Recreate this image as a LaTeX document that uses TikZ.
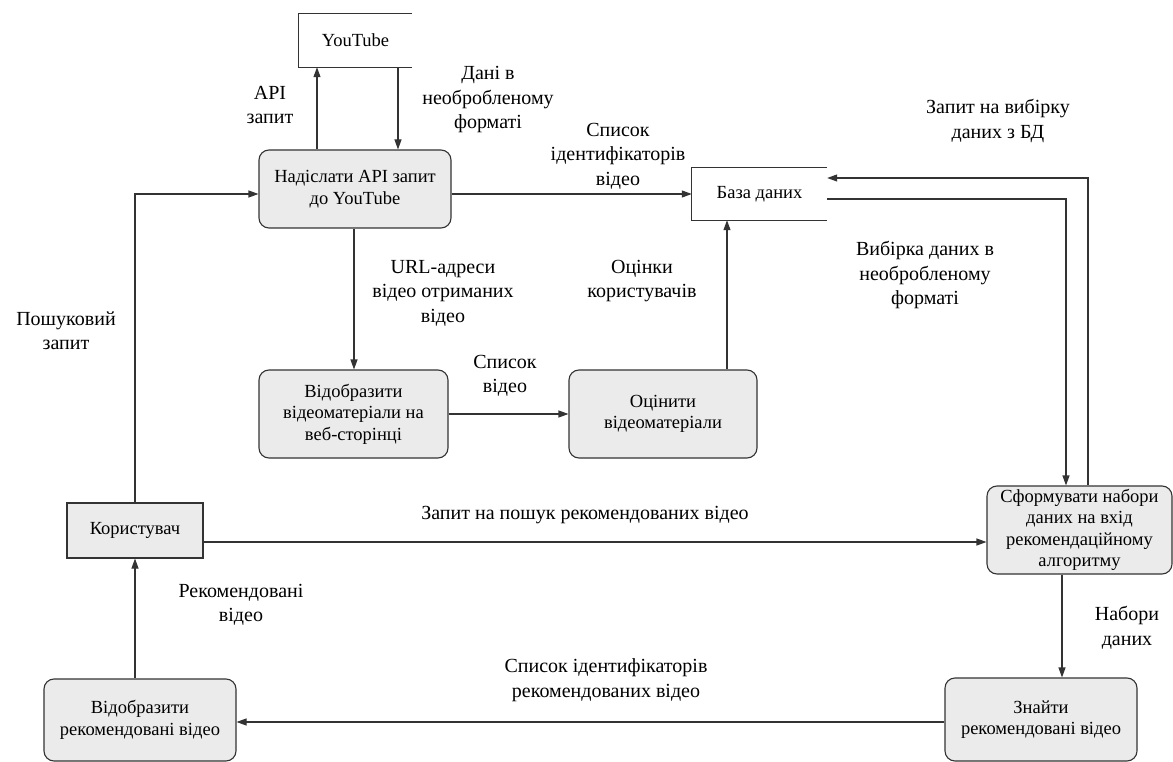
\documentclass[tikz,border=0pt]{standalone}
\usepackage{fontspec}
\setmainfont{Liberation Serif}
\usetikzlibrary{arrows.meta,calc}
\definecolor{boxfill}{HTML}{EBEBEB}
\definecolor{ln}{HTML}{333333}
\begin{document}
\begin{tikzpicture}[x=1pt,y=-1pt,
  proc/.style={draw=ln,line width=1.1pt,fill=boxfill,rounded corners=10pt,align=center,inner sep=0pt,
    font=\fontsize{18.5}{21.5}\selectfont,minimum width=#1},
  ent/.style={draw=ln,line width=1.1pt,fill=boxfill,align=center,font=\fontsize{18.5}{21.5}\selectfont},
  store/.style={align=center,font=\fontsize{18.5}{21.5}\selectfont,inner sep=0pt},
  lbl/.style={align=center,font=\fontsize{20}{24.5}\selectfont,inner sep=0pt},
  arr/.style={draw=ln,line width=1.1pt,-{Triangle[length=10pt,width=7pt]}},
  ln/.style={draw=ln,line width=1.1pt}]
\useasboundingbox (0,0) rectangle (1173,762);
% stores
\node[store,minimum width=113pt,minimum height=53pt] (yt) at (355.5,40.5) {YouTube};
\draw[ln] (yt.north east) -- (yt.north west) -- (yt.south west) -- (yt.south east);
\node[store,minimum width=135pt,minimum height=52pt] (db) at (759.5,194) {База даних};
\draw[ln] (db.north east) -- (db.north west) -- (db.south west) -- (db.south east);
% processes
\node[proc=192pt,minimum height=78pt] (send) at (355,189) {Надіслати API запит\\до YouTube};
\node[proc=189pt,minimum height=88pt] (disp) at (353.5,414) {Відобразити\\відеоматеріали на\\веб-сторінці};
\node[proc=188pt,minimum height=88pt] (rate) at (663,414) {Оцінити\\відеоматеріали};
\node[proc=185pt,minimum height=88pt,inner sep=0pt] (form) at (1079.5,530) {Сформувати набори\\даних на вхід\\рекомендаційному\\алгоритму};
\node[ent,minimum width=136pt,minimum height=55pt] (user) at (135,530.5) {Користувач};
\node[proc=192pt,minimum height=82pt] (showrec) at (140,720) {Відобразити\\рекомендовані відео};
\node[proc=192pt,minimum height=83pt] (find) at (1041,719.5) {Знайти\\рекомендовані відео};
% connectors
\draw[arr] (send.north -| 317,0) -- (yt.south -| 317,0);
\draw[arr] (yt.south -| 398,0) -- (send.north -| 398,0);
\draw[arr] (send.east |- 0,194) -- (db.west |- 0,194);
\draw[arr] (rate.north -| 727,0) -- (db.south -| 727,0);
\draw[arr] (send.south -| 354,0) -- (disp.north -| 354,0);
\draw[arr] (disp.east) -- (rate.west);
\draw[arr] (user.north) |- (send.west |- 0,194);
\draw[arr] (user.east |- 0,542) -- (form.west |- 0,542);
\draw[arr] (db.east |- 0,199) -| (form.north -| 1066,0);
\draw[arr] (form.north -| 1088,0) |- (db.east |- 0,178);
\draw[arr] (form.south -| 1062,0) -- (find.north -| 1062,0);
\draw[arr] (find.west |- 0,722) -- (showrec.east |- 0,722);
\draw[arr] (showrec.north -| 135,0) -- (user.south);
% labels
\node[lbl] (l1) at (270,105) {API\\запит};
\node[lbl] (l2) at (488,100) {Дані в\\необробленому\\форматі};
\node[lbl] (l3) at (618,156) {Список\\ідентифікаторів\\відео};
\node[lbl] (l4) at (998,121) {Запит на вибірку\\даних з БД};
\node[lbl] (l5) at (925,275) {Вибірка даних в\\необробленому\\форматі};
\node[lbl] (l6) at (443,293) {URL-адреси\\відео отриманих\\відео};
\node[lbl] (l7) at (642,281) {Оцінки\\користувачів};
\node[lbl] (l8) at (505,376) {Список\\відео};
\node[lbl] (l9) at (66,331) {Пошуковий\\запит};
\node[lbl] (l10) at (585,515) {Запит на пошук рекомендованих відео};
\node[lbl] (l11) at (241,605) {Рекомендовані\\відео};
\node[lbl] (l12) at (1127,628) {Набори\\даних};
\node[lbl] (l13) at (606,680) {Список ідентифікаторів\\рекомендованих відео};
\end{tikzpicture}
\end{document}
